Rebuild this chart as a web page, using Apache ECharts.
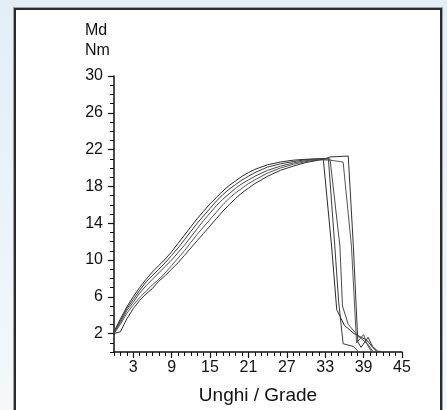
<!DOCTYPE html>
<html>
<head>
<meta charset="utf-8">
<script src="https://cdn.jsdelivr.net/npm/echarts@6/dist/echarts.min.js"></script>
<style>
  html, body { margin: 0; padding: 0; width: 447px; height: 410px; overflow: hidden; }
  body { background: linear-gradient(180deg, #e3eef7 0%, #edf3f9 60%, #f4f8fb 100%); position: relative; }
  .panel { position: absolute; left: 14px; top: 8px; width: 424px; height: 420px; background: #fff; border: 2px solid #2b2b2b; box-shadow: 0 0 0 1px #9aa3aa; }
  #chart { position: absolute; left: 0; top: 0; width: 447px; height: 410px; }
</style>
</head>
<body>
<div class="panel"></div>
<div id="chart"></div>
<script>
// 刻度
var xLabels = [3, 9, 15, 21, 27, 33, 39, 45];
var yLabels = [2, 6, 10, 14, 18, 22, 26, 30];

// 上升段 (共同的角度)
var angle = [0, 1, 2, 3, 4, 5, 6, 7, 8, 9, 10, 11, 12, 13, 14, 15, 16, 17, 18, 19, 20, 21, 22, 24, 26, 28, 30, 32];
var md1 = [2.2, 3.6, 4.9, 6.0, 7.0, 7.9, 8.7, 9.4, 10.1, 10.9, 11.8, 12.7, 13.6, 14.5, 15.3, 16.1, 16.8, 17.5, 18.1, 18.6, 19.1, 19.5, 19.85, 20.35, 20.65, 20.85, 20.95, 21.0];
var md2 = [2.1, 3.4, 4.7, 5.7, 6.7, 7.6, 8.3, 9.0, 9.7, 10.5, 11.3, 12.2, 13.1, 14.0, 14.8, 15.6, 16.4, 17.1, 17.7, 18.2, 18.7, 19.1, 19.5, 20.1, 20.45, 20.7, 20.9, 21.0];
var md3 = [2.1, 3.2, 4.5, 5.4, 6.4, 7.2, 7.9, 8.6, 9.3, 10.0, 10.8, 11.6, 12.5, 13.4, 14.3, 15.1, 15.9, 16.6, 17.2, 17.8, 18.3, 18.7, 19.1, 19.75, 20.2, 20.55, 20.8, 20.95];
var md4 = [2.0, 3.0, 4.2, 5.1, 5.9, 6.6, 7.3, 7.9, 8.6, 9.4, 10.2, 11.0, 11.9, 12.8, 13.6, 14.4, 15.2, 16.0, 16.7, 17.3, 17.8, 18.3, 18.7, 19.45, 20.0, 20.4, 20.7, 20.9];
var md5 = [2.0, 2.2, 3.6, 4.7, 5.6, 6.3, 6.9, 7.7, 8.3, 9.0, 9.7, 10.5, 11.3, 12.1, 12.9, 13.7, 14.5, 15.3, 16.0, 16.7, 17.3, 17.8, 18.3, 19.1, 19.75, 20.2, 20.6, 20.85];

// 下降段 [角度, 扭矩]
var tail1 = [[32.7, 21.0], [34.0, 11.5], [34.8, 4.6], [36.0, 2.9], [37.5, 2.0], [39.5, 1.3], [40.3, 0.6], [41.0, 0.1]];
var tail2 = [[33.5, 21.0], [34.5, 11.5], [35.1, 5.5], [35.8, 0.9], [37.4, 0.6], [38.1, 0.1]];
var tail3 = [[33.75, 21.0], [35.3, 11.5], [35.7, 5.0], [36.6, 3.0], [38.2, 1.7], [39.6, 0.9], [40.4, 0.1]];
var tail4 = [[33.75, 20.85], [35.8, 20.65], [37.1, 11.5], [37.9, 1.0], [39.0, 1.9], [39.5, 0.9], [40.2, 0.1]];
var tail5 = [[33.0, 21.0], [33.75, 21.2], [36.6, 21.3], [37.4, 11.5], [38.1, 1.1], [38.6, 0.5], [39.7, 1.6], [40.4, 0.6], [41.2, 0.1], [41.8, 0.05]];

var curves = [
  { y: md1, tail: tail1, color: "#2a2a2a" },
  { y: md2, tail: tail2, color: "#3a3a3a" },
  { y: md3, tail: tail3, color: "#4a4a4a" },
  { y: md4, tail: tail4, color: "#555" },
  { y: md5, tail: tail5, color: "#333" },
];

var FONT = "Liberation Sans";
var myChart = echarts.init(document.getElementById("chart"), null, { renderer: "canvas" });
var option;

var series = curves.map(function (c, i) {
  var pts = angle.map(function (a, k) { return [a, c.y[k]]; });
  return {
    name: "curve" + (i + 1),
    type: "line",
    xAxisIndex: 0,
    yAxisIndex: 0,
    showSymbol: false,
    silent: true,
    lineStyle: { color: c.color, width: 1 },
    data: pts.concat(c.tail),
  };
});

option = {
  backgroundColor: "transparent",
  animation: false,
  // 单位 (左对齐两行)
  graphic: [
    {
      type: "text",
      left: 85,
      top: 21,
      style: { text: "Md\nNm", fontFamily: FONT, fontSize: 16, fill: "#111", lineHeight: 20, align: "left" },
    },
  ],
  grid: { left: 114, right: 45, top: 76, bottom: 49.5 },
  xAxis: [
    {
      type: "value",
      min: 0,
      max: 45,
      interval: 1,
      name: "Unghi / Grade",
      nameLocation: "middle",
      nameGap: 34,
      nameTextStyle: { fontFamily: FONT, fontSize: 19, color: "#111" },
      axisLine: { show: true, lineStyle: { color: "#111", width: 1.5 } },
      axisTick: { show: true, length: 4, lineStyle: { color: "#111", width: 1 } },
      axisLabel: { customValues: xLabels, fontFamily: FONT, fontSize: 16, color: "#111", margin: 8 },
      splitLine: { show: false },
    },
    {
      type: "value",
      min: 0,
      max: 45,
      position: "bottom",
      axisLine: { show: false },
      axisTick: { show: true, customValues: xLabels, length: 6, lineStyle: { color: "#111", width: 1.2 } },
      axisLabel: { show: false },
      splitLine: { show: false },
    },
  ],
  yAxis: [
    {
      type: "value",
      min: 0,
      max: 30,
      interval: 1,
      axisLine: { show: true, lineStyle: { color: "#111", width: 1.5 } },
      axisTick: { show: true, length: 4, lineStyle: { color: "#111", width: 1 } },
      axisLabel: { customValues: yLabels, fontFamily: FONT, fontSize: 16, color: "#111", margin: 11 },
      splitLine: { show: false },
    },
    {
      type: "value",
      min: 0,
      max: 30,
      position: "left",
      axisLine: { show: false },
      axisTick: { show: true, customValues: yLabels, length: 6, lineStyle: { color: "#111", width: 1.2 } },
      axisLabel: { show: false },
      splitLine: { show: false },
    },
  ],
  series: series,
};

option && myChart.setOption(option);
</script>
</body>
</html>
